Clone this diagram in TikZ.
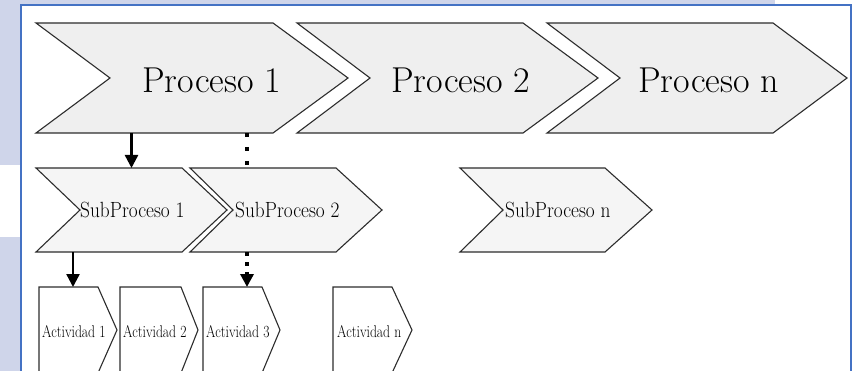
\documentclass[tikz,border=0pt]{standalone}
\usepackage{graphicx}
\usetikzlibrary{arrows.meta}

\definecolor{frameblue}{RGB}{68,114,196}
\definecolor{lavender}{RGB}{207,213,234}
\definecolor{procfill}{RGB}{239,239,239}
\definecolor{subfill}{RGB}{245,245,245}
\definecolor{edgegray}{RGB}{45,45,45}

% horizontally condensed label text
\newcommand\condensed[2]{\scalebox{#1}[1]{#2}}

\tikzset{
  area/.style={draw=none, inner sep=0pt, outer sep=0pt},
  proc/.style={area, minimum height=110pt},
  subproc/.style={area, minimum height=84pt},
  activity/.style={area, minimum height=86pt},
  shapeline/.style={draw=edgegray, line width=1.1pt, line join=miter},
  proctext/.style={anchor=base west, inner sep=0pt, font=\fontsize{36}{40}\selectfont},
  subtext/.style={anchor=base west, inner sep=0pt, font=\fontsize{22}{24}\selectfont},
  acttext/.style={anchor=base west, inner sep=0pt, font=\fontsize{17}{19}\selectfont},
  solidarrow/.style={line width=2.4pt, -{Triangle[length=13pt,width=13pt]}},
  dotline/.style={line width=4pt, dash pattern=on 4pt off 10pt},
  dotarrow/.style={line width=4pt, dash pattern=on 4pt off 6pt,
    -{Triangle[length=13pt,width=13pt]}},
  frameline/.style={draw=frameblue, line width=1.8pt},
}

% chevron outline: #1 style, #2 node, #3 point depth, #4 notch depth
\newcommand\chevron[4]{%
  \path[#1] (#2.north west) -- ([xshift=-#3]#2.north east) -- (#2.east)
    -- ([xshift=-#3]#2.south east) -- (#2.south west)
    -- ([xshift=#4]#2.west) -- cycle;}

\begin{document}
\begin{tikzpicture}[x=1pt, y=-1pt]
  % page and backdrop
  \fill[white] (0,0) rectangle (861,371);
  \useasboundingbox (0,0) rectangle (861,371);
  \fill[lavender] (0,0) rectangle (775,5);
  \fill[lavender] (0,0) rectangle (21,165);
  \fill[lavender] (0,237) rectangle (21,371);
  \draw[frameline] (21,371) -- (21,5) -- (851,5) -- (851,371);

  % processes
  \node[proc, minimum width=312pt] (p1) at (192,78) {};
  \node[proc, minimum width=301pt] (p2) at (447.5,78) {};
  \node[proc, minimum width=300pt] (pn) at (697,78) {};
  \chevron{shapeline, fill=procfill}{p1}{75pt}{74pt}
  \chevron{shapeline, fill=procfill}{p2}{75pt}{73pt}
  \chevron{shapeline, fill=procfill}{pn}{74pt}{73pt}
  \node[proctext] (p1t) at (142,93) {Proceso 1};
  \node[proctext] (p2t) at (391,93) {Proceso 2};
  \node[proctext] (pnt) at (638,93) {Proceso n};

  % sub-processes
  \node[subproc, minimum width=191pt] (sp1) at (131.5,210) {};
  \node[subproc, minimum width=192pt] (sp2) at (286,210) {};
  \node[subproc, minimum width=192pt] (spn) at (556,210) {};
  \chevron{shapeline, fill=subfill}{sp1}{45pt}{44pt}
  \chevron{shapeline, fill=subfill}{sp2}{46pt}{43pt}
  \chevron{shapeline, fill=subfill}{spn}{47pt}{43pt}
  \node[subtext] (sp1t) at (80,218) {\condensed{0.88}{SubProceso 1}};
  \node[subtext] (sp2t) at (235,218) {\condensed{0.88}{SubProceso 2}};
  \node[subtext] (spnt) at (505,218) {\condensed{0.88}{SubProceso n}};

  % activities
  \node[activity, minimum width=78pt] (a1) at (78,330) {};
  \node[activity, minimum width=78pt] (a2) at (159,330) {};
  \node[activity, minimum width=77pt] (a3) at (241.5,330) {};
  \node[activity, minimum width=79pt] (an) at (372.5,330) {};
  \chevron{shapeline, fill=white}{a1}{19pt}{0pt}
  \chevron{shapeline, fill=white}{a2}{17pt}{0pt}
  \chevron{shapeline, fill=white}{a3}{18pt}{0pt}
  \chevron{shapeline, fill=white}{an}{20pt}{0pt}
  \node[acttext] (a1t) at (42,337) {\condensed{0.8}{Actividad 1}};
  \node[acttext] (a2t) at (123,337) {\condensed{0.8}{Actividad 2}};
  \node[acttext] (a3t) at (206,337) {\condensed{0.8}{Actividad 3}};
  \node[acttext] (ant) at (337,337) {\condensed{0.8}{Actividad n}};

  % links between levels
  \draw[solidarrow] (p1.south -| sp1.north) -- (sp1.north);
  \draw[dotline] ([xshift=55pt]p1.south) -- ([xshift=55pt]p1.south |- sp2.north);
  \draw[solidarrow] ([xshift=-5pt]sp1.south -| a1.north) -- ([xshift=-5pt]a1.north);
  \draw[dotarrow] ([xshift=5.5pt]sp2.south -| a3.north) -- ([xshift=5.5pt]a3.north);
\end{tikzpicture}
\end{document}
